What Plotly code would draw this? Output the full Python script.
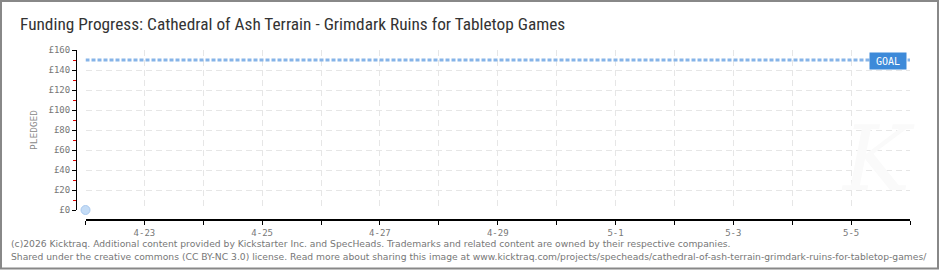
import plotly.graph_objects as go

# ---- data ----
dates = ["2026-04-22"]
pledged = [0]
goal = 150
x_range = ["2026-04-22", "2026-05-06"]
y_ticks = [0, 20, 40, 60, 80, 100, 120, 140, 160]
y_tick_labels = ["£0", "£20", "£40", "£60", "£80", "£100", "£120", "£140", "£160"]
x_tick_vals = ["2026-04-23", "2026-04-25", "2026-04-27", "2026-04-29", "2026-05-01", "2026-05-03", "2026-05-05"]
x_tick_labels = ["4-23", "4-25", "4-27", "4-29", "5-1", "5-3", "5-5"]
title = "Funding Progress: Cathedral of Ash Terrain - Grimdark Ruins for Tabletop Games"
footer1 = "(c)2026 Kicktraq. Additional content provided by Kickstarter Inc. and SpecHeads. Trademarks and related content are owned by their respective companies."
footer2 = "Shared under the creative commons (CC BY-NC 3.0) license. Read more about sharing this image at www.kicktraq.com/projects/specheads/cathedral-of-ash-terrain-grimdark-ruins-for-tabletop-games/"

W, H = 940, 270
ML, MR, MT, MB = 76, 30, 50, 50
PW = W - ML - MR
PH = H - MT - MB

def px(x):
    return (x - ML) / PW

def py(y):
    return (H - MB - y) / PH

fig = go.Figure()

# goal line
fig.add_trace(go.Scatter(
    x=x_range, y=[goal, goal], mode="lines",
    line=dict(color="#86b4e8", width=3, dash="4px,2px"),
    hoverinfo="skip", showlegend=False, cliponaxis=False))

# pledged data
fig.add_trace(go.Scatter(
    x=dates, y=pledged, mode="markers",
    marker=dict(size=9, color="#c4dcf6", line=dict(color="#a9c8ee", width=1)),
    showlegend=False, cliponaxis=False))

axis_font = dict(family="DejaVu Sans Mono, monospace", size=9, color="#777777")

fig.update_layout(
    width=W, height=H,
    margin=dict(l=ML, r=MR, t=MT, b=MB),
    paper_bgcolor="white", plot_bgcolor="white",
    font=dict(family="DejaVu Sans", color="#666666"),
    xaxis=dict(
        type="date", range=x_range,
        domain=[px(85.5), 1],
        anchor="free", position=0,
        tickvals=x_tick_vals, ticktext=x_tick_labels,
        tickfont=axis_font,
        showline=True, linecolor="#000000", linewidth=2,
        ticks="outside", ticklen=4, tickcolor="#000000", tickwidth=1,
        minor=dict(dtick=86400000, ticks="outside", ticklen=4, tickcolor="#000000",
                   showgrid=True, gridcolor="#e6e6e6", griddash="6px,4px", gridwidth=1),
        showgrid=True, gridcolor="#e6e6e6", griddash="6px,4px", gridwidth=1,
        zeroline=False, fixedrange=True,
    ),
    yaxis=dict(
        range=[0, 160],
        domain=[10 / PH, 1],
        anchor="free", position=0,
        tickvals=y_ticks, ticktext=y_tick_labels,
        tickfont=axis_font,
        showline=True, linecolor="#000000", linewidth=1,
        ticks="outside", ticklen=4, tickcolor="#000000", tickwidth=1,
        minor=dict(dtick=10, ticks="outside", ticklen=3, tickcolor="#dd0000", showgrid=False),
        showgrid=True, gridcolor="#e6e6e6", griddash="6px,4px", gridwidth=1,
        zeroline=False, fixedrange=True,
        title=dict(text="PLEDGED", font=dict(family="DejaVu Sans Mono", size=9.5, color="#888888"), standoff=8),
    ),
    showlegend=False,
)

# frame border
fig.add_shape(type="rect", xref="paper", yref="paper",
              x0=px(1), x1=px(938), y0=py(268.5), y1=py(1),
              line=dict(color="#888888", width=2), fillcolor="rgba(0,0,0,0)", layer="above")

# watermark K
fig.add_annotation(xref="paper", yref="paper", x=px(878), y=py(158), text="<i>K</i>",
                   showarrow=False, font=dict(family="DejaVu Serif", size=90, color="#fafafa"),
                   xanchor="center", yanchor="middle")

# title
fig.add_annotation(xref="paper", yref="paper", x=px(18), y=py(24), text=title,
                   showarrow=False, xanchor="left", yanchor="middle",
                   font=dict(family="Liberation Sans Narrow, Roboto Condensed, Arial Narrow, sans-serif", size=17.3, color="#333333"))

# goal label
fig.add_annotation(xref="paper", yref="paper", x=px(888), y=py(61), text="GOAL",
                   showarrow=False, xanchor="center", yanchor="middle",
                   font=dict(family="DejaVu Sans Mono", size=10, color="white"),
                   bgcolor="#3d8ad9", borderpad=2, width=32, height=12)

# footers
fig.add_annotation(xref="paper", yref="paper", x=px(9), y=py(243), text=footer1,
                   showarrow=False, xanchor="left", yanchor="middle",
                   font=dict(family="DejaVu Sans", size=9.2, color="#777777"))
fig.add_annotation(xref="paper", yref="paper", x=px(9), y=py(256.5), text=footer2,
                   showarrow=False, xanchor="left", yanchor="middle",
                   font=dict(family="DejaVu Sans", size=9.2, color="#777777"))

fig.write_html("out.html", config=dict(displayModeBar=False))
